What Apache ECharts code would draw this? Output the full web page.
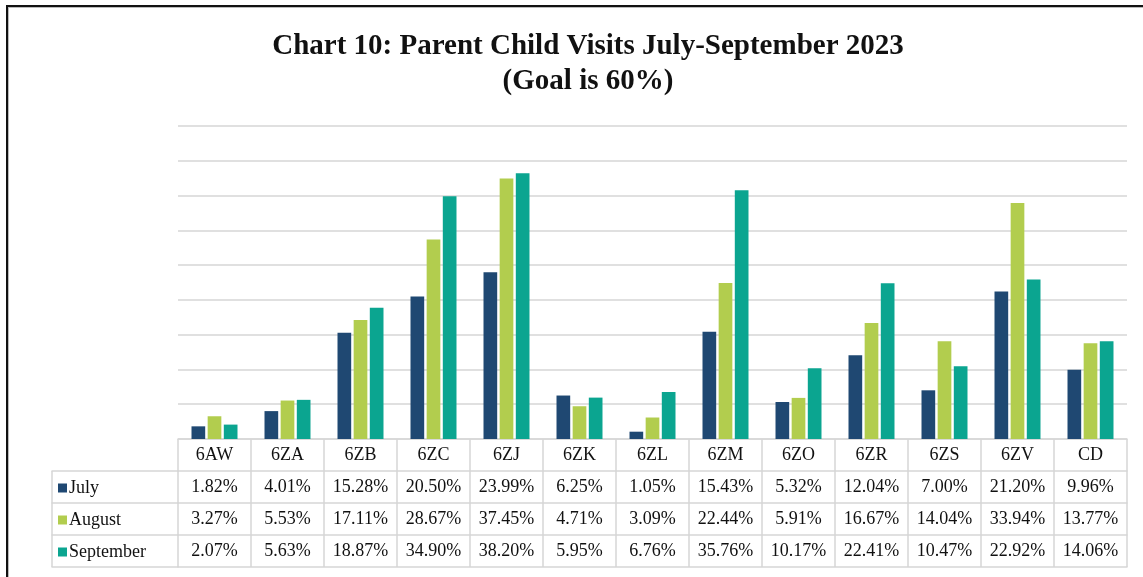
<!DOCTYPE html>
<html>
<head>
<meta charset="utf-8">
<script src="https://cdn.jsdelivr.net/npm/echarts@6/dist/echarts.min.js"></script>
<style>
  html, body { margin: 0; padding: 0; background: #fff; overflow: hidden; }
  #chart { position: absolute; left: 0; top: 0; width: 1143px; height: 577px; }
  #frame { position: absolute; left: 6px; top: 5px; width: 1300px; height: 700px;
           border-top: 2px solid #111; border-left: 2px solid #111;
           box-shadow: inset 1px 1px 0 #bbb; pointer-events: none; }
</style>
</head>
<body>
<div id="chart"></div>
<div id="frame"></div>
<script>
// chart data
var units = ['6AW', '6ZA', '6ZB', '6ZC', '6ZJ', '6ZK', '6ZL', '6ZM', '6ZO', '6ZR', '6ZS', '6ZV', 'CD'];
var july = [1.82, 4.01, 15.28, 20.50, 23.99, 6.25, 1.05, 15.43, 5.32, 12.04, 7.00, 21.20, 9.96];
var august = [3.27, 5.53, 17.11, 28.67, 37.45, 4.71, 3.09, 22.44, 5.91, 16.67, 14.04, 33.94, 13.77];
var september = [2.07, 5.63, 18.87, 34.90, 38.20, 5.95, 6.76, 35.76, 10.17, 22.41, 10.47, 22.92, 14.06];
var months = ['July', 'August', 'September'];
var rows = [july, august, september];

var font = "'Liberation Serif', 'Times New Roman', serif";
var lineColor = '#d6d6d6';
var rowH = 32;

var chartDom = document.getElementById('chart');
var myChart = echarts.init(chartDom);
var option;

// one x axis per table row, all on the bar grid
function tableAxis(offset, formatter, showTick) {
  return {
    type: 'category',
    gridIndex: 0,
    position: 'bottom',
    offset: offset,
    data: units,
    axisLine: { show: true, onZero: false, lineStyle: { color: lineColor, width: 1.5 } },
    axisTick: { show: showTick, length: rowH, interval: 0, lineStyle: { color: lineColor, width: 1.5 } },
    axisLabel: {
      show: !!formatter,
      interval: 0,
      margin: 16,
      verticalAlign: 'middle',
      fontFamily: font,
      fontSize: 18,
      color: '#111',
      formatter: formatter
    }
  };
}

// left column of the table (month names)
function labelAxis(offset, showTick) {
  return {
    type: 'category',
    gridIndex: 1,
    position: 'bottom',
    offset: offset,
    data: [''],
    axisLine: { show: true, onZero: false, lineStyle: { color: lineColor, width: 1.5 } },
    axisTick: { show: showTick, length: rowH, interval: 0, lineStyle: { color: lineColor, width: 1.5 } },
    axisLabel: { show: false }
  };
}

var xAxes = [
  tableAxis(0, function (v) { return v; }, true)
];
rows.forEach(function (arr, k) {
  xAxes.push(tableAxis(rowH * (k + 1), function (v, i) { return arr[i].toFixed(2) + '%'; }, true));
});
xAxes.push(tableAxis(rowH * 4, null, false));
for (var k = 1; k <= 3; k++) xAxes.push(labelAxis(rowH * k, true));
xAxes.push(labelAxis(rowH * 4, false));

option = {
  animation: false,
  color: ['#1f4872', '#b2cd4e', '#0ba590'],
  textStyle: { fontFamily: font },
  title: {
    text: 'Chart 10: Parent Child Visits July-September 2023\n(Goal is 60%)',
    left: 583,
    textAlign: 'center',
    top: 24,
    textStyle: {
      fontFamily: font,
      fontWeight: 'bold',
      fontSize: 29,
      lineHeight: 35,
      color: '#111'
    }
  },
  legend: {
    data: months,
    orient: 'vertical',
    left: 58,
    top: 477,
    padding: 0,
    itemWidth: 9,
    itemHeight: 9,
    itemGap: 10,
    icon: 'rect',
    textStyle: { fontFamily: font, fontSize: 18, lineHeight: 22, color: '#111', padding: [0, 0, 0, -3] },
    selectedMode: false
  },
  grid: [
    { left: 178, right: 16, top: 126, bottom: 138 },
    { left: 52, width: 126, top: 126, bottom: 138 }
  ],
  xAxis: xAxes,
  yAxis: [
    {
      type: 'value',
      gridIndex: 0,
      min: 0,
      max: 45,
      interval: 5,
      axisLabel: { show: false },
      axisLine: { show: false },
      axisTick: { show: false },
      splitLine: { lineStyle: { color: lineColor, width: 1.5 } }
    },
    {
      type: 'value',
      gridIndex: 1,
      show: false
    }
  ],
  series: months.map(function (m, k) {
    return {
      name: m,
      type: 'bar',
      xAxisIndex: 0,
      yAxisIndex: 0,
      barGap: '18%',
      barCategoryGap: '37%',
      data: rows[k]
    };
  })
};

option && myChart.setOption(option);
</script>
</body>
</html>
